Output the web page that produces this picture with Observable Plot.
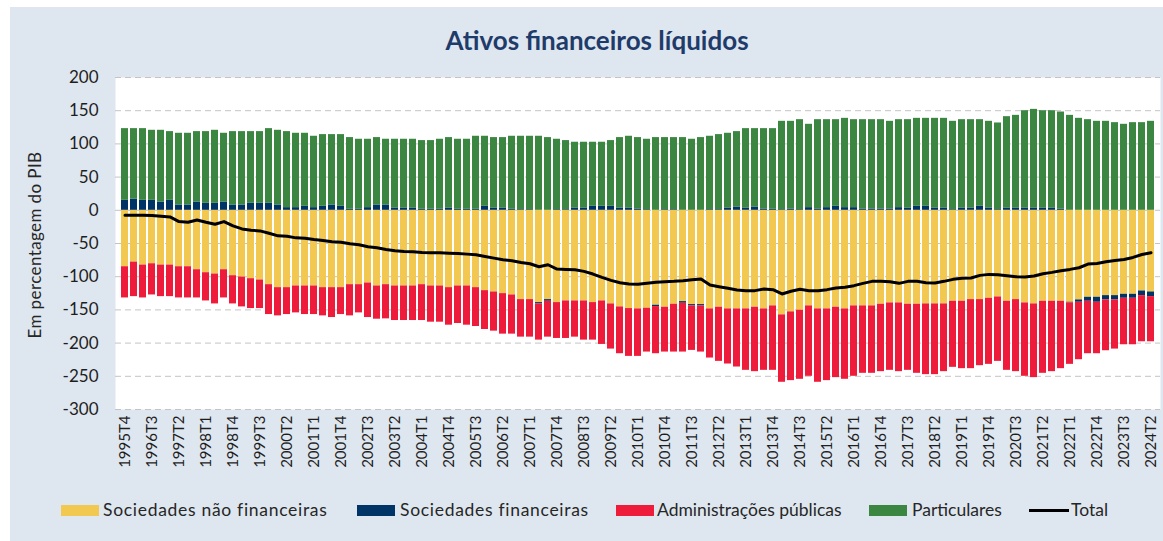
<!DOCTYPE html>
<html>
<head>
<meta charset="utf-8">
<script src="https://cdn.jsdelivr.net/npm/d3@7"></script>
<script src="https://cdn.jsdelivr.net/npm/@observablehq/plot@0.6"></script>
<style>
  body { margin: 0; background: #ffffff; font-family: Lato, "Open Sans", sans-serif; }
  #page { position: relative; width: 1163px; height: 541px; overflow: hidden; background: #ffffff; }
  #panel { position: absolute; left: 10px; top: 7px; right: 0; bottom: 0; background: #dee6ef; }
  #chart { position: absolute; left: 0; top: 0; }
  #title { position: absolute; left: 597px; top: 23px; transform: translateX(-50%); white-space: nowrap;
           font-size: 26px; font-weight: bold; color: #1f3b6a; line-height: 34px; }
  #ylabel { position: absolute; left: 34px; top: 245px; transform: translate(-50%, -50%) rotate(-90deg);
            white-space: nowrap; font-size: 17px; color: #262626; letter-spacing: 0.4px; }
  .sw { position: absolute; top: 505px; height: 11px; }
  .lt { position: absolute; top: 499px; font-size: 17.5px; color: #262626; line-height: 22px; white-space: nowrap; }
  .ln { position: absolute; top: 509px; height: 3px; background: #000; }
</style>
</head>
<body>
<div id="page">
  <div id="panel"></div>
  <div id="title"></div>
  <div id="ylabel"></div>
  <div id="chart"></div>
  <div id="legend"></div>
</div>
<script>
// ---------- Data ----------
const titleText = "Ativos financeiros líquidos";
const yLabelText = "Em percentagem do PIB";
const seriesNames = ["Sociedades não financeiras", "Sociedades financeiras", "Administrações públicas", "Particulares"];
const seriesColors = ["#f2c850", "#003366", "#ee1b3b", "#3b8641"];
const totalName = "Total";

// quarters 1995T4 ... 2024T2
const quarters = [];
for (let y = 1995; y <= 2024; y++) {
  for (let q = 1; q <= 4; q++) {
    if ((y === 1995 && q < 4) || (y === 2024 && q > 2)) continue;
    quarters.push(y + "T" + q);
  }
}

const tickLabels = ["1995T4","1996T3","1997T2","1998T1","1998T4","1999T3","2000T2","2001T1","2001T4","2002T3",
  "2003T2","2004T1","2004T4","2005T3","2006T2","2007T1","2007T4","2008T3","2009T2","2010T1","2010T4","2011T3",
  "2012T2","2013T1","2013T4","2014T3","2015T2","2016T1","2016T4","2017T3","2018T2","2019T1","2019T4","2020T3",
  "2021T2","2022T1","2022T4","2023T3","2024T2"];

const yTicks = [200, 150, 100, 50, 0, -50, -100, -150, -200, -250, -300];

const sociedadesNaoFinanceiras = [
  -85, -78, -82.5, -80.5, -82.5, -82.5, -85, -85, -89.5, -94,
  -96, -89.5, -98.5, -100.5, -103, -105, -112, -116.5, -116.5, -114,
  -114, -114, -116.5, -116.5, -116.5, -112, -112, -109.5, -114, -112,
  -114, -114, -114, -112, -114, -114, -116.5, -114, -114, -116.5,
  -121, -123, -125.5, -127.5, -134.5, -134.5, -139, -134.5, -139, -136.5,
  -136.5, -136.5, -139, -136.5, -141, -145.5, -148, -148.5, -147.5, -143,
  -146, -141.5, -137.5, -142, -142, -148.5, -146, -148.5, -148.5, -148.5,
  -146, -148.5, -144, -157.5, -153, -150.5, -144, -148.5, -148.5, -146,
  -148.5, -144, -144, -144, -141.5, -139.5, -139.5, -141.5, -141.5, -141,
  -141, -141, -137, -137, -134.5, -134.5, -132.5, -130.5, -137, -134.5,
  -139.5, -141, -137, -137, -137, -138.5, -135, -131, -131, -128.5,
  -128.5, -126.5, -126.5, -121.5, -123
];

const sociedadesFinanceiras = [
  15, 17, 15, 15, 12.5, 15, 8, 8, 12.5, 10.5,
  10.5, 12.5, 8, 8, 10.5, 10.5, 10.5, 8, 4, 4,
  6, 4, 6, 8, 6, 1.5, 1.5, 4, 8, 8,
  3.5, 3.5, 3.5, 1.5, 1.5, 1.5, 3.5, 1.5, 1.5, 1.5,
  6, 3.5, 3.5, 1.5, 1, 1, -2, -2.5, 1, 1,
  3.5, 3.5, 6, 6, 6, 3.5, 3.5, 2, 1, -2,
  1, 1, -2.5, -2, -2, 1, 1, 3.5, 5, 3.5,
  5, 2, 1.5, 1, 2, 1, 4, 2, 4, 6,
  4, 4, 2, 2, 2, 2, 4, 3.5, 6, 6,
  3.5, 3.5, 1, 3.5, 3.5, 6, 3.5, 1, 3.5, 3.5,
  3.5, 3.5, 3.5, 3.5, 1.5, -1, -3.5, -6, -7.5, -6.5,
  -6.5, -6, -6, -7, -7
];

const administracoesPublicas = [
  -47, -52, -49.5, -47, -47.5, -47.5, -47, -47, -42.5, -42.5,
  -45, -42.5, -42.5, -45, -45, -43, -45, -42.5, -40.5, -40.5,
  -43, -43, -42.5, -45, -40.5, -47, -42.5, -52, -50, -51.5,
  -52, -52, -52, -54, -54.5, -54.5, -56.5, -56.5, -59, -58.5,
  -58.5, -59, -61, -59, -56.5, -56.5, -54.5, -54, -54, -56.5,
  -54.5, -59, -56.5, -65.5, -68, -70.5, -72, -71.5, -66, -71,
  -67.5, -72, -73.5, -67, -69.5, -74, -81.5, -83, -87.5, -92.5,
  -97, -92.5, -97, -101.5, -103.5, -104, -106, -110.5, -108, -106,
  -106, -106, -101.5, -101.5, -101.5, -101.5, -103.5, -99.5, -104, -106.5,
  -106.5, -102, -99.5, -101.5, -104, -99.5, -99.5, -97, -104, -108.5,
  -110.5, -111, -108.5, -106, -101.5, -92.5, -86.5, -79, -77.5, -76.5,
  -74, -70, -70, -69.5, -68
];

const particulares = [
  108, 106, 108, 105.5, 108, 103.5, 108, 108, 106, 108,
  110, 103.5, 110.5, 110.5, 108, 108, 112.5, 112.5, 114.5, 112,
  110, 107.5, 108, 106, 108, 108, 105.5, 103, 101.5, 99,
  103.5, 103.5, 103.5, 103.5, 103.5, 105.5, 106, 105.5, 105.5, 110,
  105.5, 106, 106, 110, 110.5, 110.5, 111.5, 109.5, 106, 104,
  99, 99, 96.5, 96.5, 99, 106, 108, 107.5, 106, 109.5,
  108.5, 108.5, 109.5, 107, 109.5, 110.5, 113, 112.5, 113.5, 119.5,
  118, 121, 121.5, 133, 132, 135.5, 125.5, 134.5, 132.5, 130.5,
  134.5, 132.5, 134.5, 134.5, 134.5, 132, 132.5, 133, 132.5, 132.5,
  135, 135, 133, 133, 133, 130.5, 130.5, 130.5, 137.5, 139.5,
  146.5, 148.5, 146.5, 146.5, 146.5, 143, 138.5, 136.5, 134, 134,
  132, 129.5, 132, 132, 134
];

const total = [
  -7.5, -7.5, -7.5, -8, -9, -10, -17, -18, -14.5, -18,
  -21, -17, -23.5, -28, -30, -31, -34.5, -38.5, -39, -41.5,
  -42, -44, -45.5, -47.5, -48, -50.5, -52, -55, -56.5, -59,
  -61, -62, -62.5, -63.5, -64, -64, -64.5, -65, -66, -67,
  -69.5, -72, -74.5, -76, -78.5, -80.5, -85, -82, -88.5, -89,
  -89.5, -92, -96, -101, -105.5, -109, -111, -111.5, -110, -108.5,
  -107.5, -107, -106, -104.5, -103.5, -112.5, -115, -117.5, -120, -121,
  -121, -118.5, -119.5, -126, -122, -119, -121, -121, -119.5, -117,
  -116, -113.5, -110, -107, -107, -107.5, -110, -107, -107, -109,
  -109.5, -107, -104, -102.5, -102, -98, -96.5, -97, -98.5, -100,
  -100.5, -99, -95.5, -93.5, -91, -89, -86.5, -81, -80, -77.5,
  -75.5, -74, -71, -66.5, -64
];

// ---------- Build tables ----------
const seriesValues = [sociedadesNaoFinanceiras, sociedadesFinanceiras, administracoesPublicas, particulares];
const stacked = [];
quarters.forEach((q, i) => {
  seriesNames.forEach((s, k) => stacked.push({q, s, v: seriesValues[k][i]}));
});
const totalRows = quarters.map((q, i) => ({q, v: total[i]}));

// ---------- Text ----------
document.getElementById("title").textContent = titleText;
document.getElementById("ylabel").textContent = yLabelText;

// ---------- Chart ----------
const chart = Plot.plot({
  width: 1163,
  height: 500,
  marginLeft: 115,
  marginRight: 3,
  marginTop: 77,
  marginBottom: 91,
  style: {background: "transparent", fontFamily: "Lato, 'Open Sans', sans-serif", color: "#1e1e1e"},
  x: {type: "band", domain: quarters, padding: 0.2, label: null},
  y: {domain: [-300, 200], label: null},
  color: {domain: seriesNames, range: seriesColors},
  marks: [
    Plot.frame({fill: "white", stroke: "none"}),
    Plot.ruleY(yTicks, {stroke: "#c4c4c4", strokeWidth: 1, strokeDasharray: "6,4"}),
    Plot.barY(stacked, {x: "q", y: "v", fill: "s"}),
    Plot.line(totalRows, {x: "q", y: "v", stroke: "#000", strokeWidth: 3, curve: "linear"}),
    Plot.axisY({ticks: yTicks, tickSize: 0, tickPadding: 17, fontSize: 17, label: null, tickFormat: d => String(d)}),
    Plot.axisX({ticks: tickLabels, tickSize: 0, tickPadding: 6, tickRotate: -90, fontSize: 15, label: null})
  ]
});
document.getElementById("chart").appendChild(chart);

// ---------- Legend ----------
const legend = document.getElementById("legend");
const swatchX = [61, 357, 616, 869];
const textX = [103, 400, 657, 912];
const spacing = ["0.7px", "0.7px", "0px", "0px"];
seriesNames.forEach((s, k) => {
  const sw = document.createElement("div");
  sw.className = "sw";
  sw.style.left = swatchX[k] + "px";
  sw.style.width = "38px";
  sw.style.background = seriesColors[k];
  legend.appendChild(sw);
  const t = document.createElement("div");
  t.className = "lt";
  t.style.left = textX[k] + "px";
  t.style.letterSpacing = spacing[k];
  t.textContent = s;
  legend.appendChild(t);
});
const ln = document.createElement("div");
ln.className = "ln";
ln.style.left = "1029px";
ln.style.width = "40px";
legend.appendChild(ln);
const tt = document.createElement("div");
tt.className = "lt";
tt.style.left = "1071px";
tt.textContent = totalName;
legend.appendChild(tt);
</script>
</body>
</html>
